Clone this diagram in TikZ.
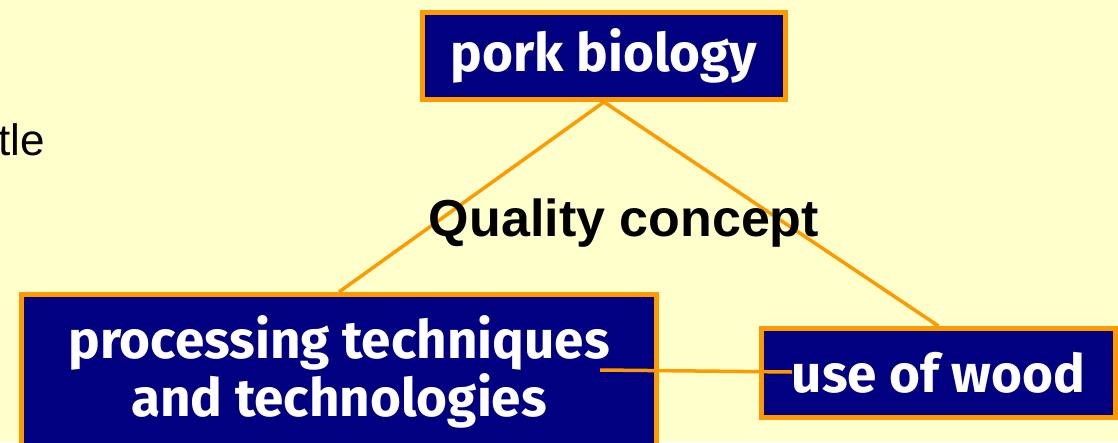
\documentclass[tikz,border=0pt]{standalone}
\usepackage{fontspec}
\setmainfont{Liberation Sans}
\newfontfamily\boxfont{Fira Sans}
\usetikzlibrary{calc}
\definecolor{pagebg}{RGB}{255,255,204}
\definecolor{boxnavy}{RGB}{0,0,128}
\definecolor{boxorange}{RGB}{255,153,0}
\tikzset{
	topicbox/.style={draw=boxorange, fill=boxnavy, line width=5pt, text=white,
		font=\boxfont\bfseries\fontsize{53}{58}\selectfont, inner sep=0pt, align=center},
	link/.style={draw=boxorange, line width=3.5pt}
}

\begin{document}
\begin{tikzpicture}[x=1pt, y=-1pt]
			%%%%% START %%%%%
			
			\fill[pagebg] (0, 0) rectangle (1118, 442);
			\useasboundingbox (0, 0) rectangle (1118, 442);
			
			\node[anchor=base east, inner sep=0pt, font=\fontsize{44}{50}\selectfont] (title) at (45, 155) {tle};
			
			\node[topicbox, minimum width=363pt, minimum height=87pt] (bio) at (604, 56) {pork biology};
			\node[topicbox, minimum width=635pt, minimum height=155pt] (proc) at (339, 372) {processing techniques\\and technologies};
			\node[topicbox, minimum width=354pt, minimum height=89pt] (wood) at (938.5, 373) {use of wood};
			
			\coordinate (procend) at (600, 370);
			\coordinate (woodend) at (792, 372);
			
			\draw[link] (bio.south) -- (proc.north);
			\draw[link] (bio.south) -- (wood.north);
			\draw[link] (procend) -- (woodend);
			
			\node[font=\bfseries\fontsize{52}{60}\selectfont] (quality) at (624, 223) {Quality concept};
			
			%%%%% END %%%%%
\end{tikzpicture}
\end{document}
